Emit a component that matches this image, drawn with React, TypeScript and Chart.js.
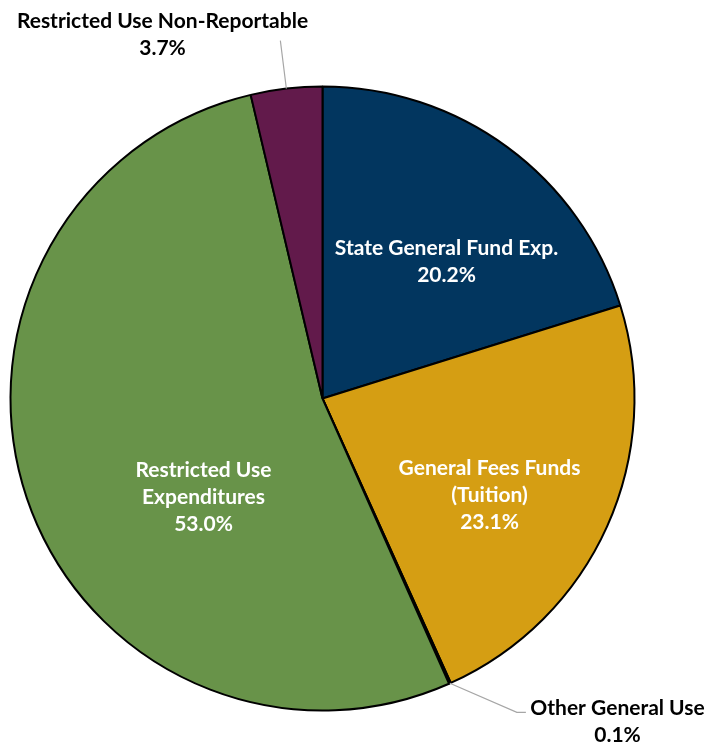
import React, { useEffect, useRef } from "react";
import { Chart, registerables } from "chart.js";

Chart.register(...registerables);

const categories = [
  "State General Fund Exp.",
  "General Fees Funds (Tuition)",
  "Other General Use",
  "Restricted Use Expenditures",
  "Restricted Use Non-Reportable",
];
const values = [20.2, 23.1, 0.1, 53.0, 3.7];
const labelLines = [
  ["State General Fund Exp.", "20.2%"],
  ["General Fees Funds", "(Tuition)", "23.1%"],
  ["Other General Use", "0.1%"],
  ["Restricted Use", "Expenditures", "53.0%"],
  ["Restricted Use Non-Reportable", "3.7%"],
];
const colors = ["#02365F", "#D59E13", "#D59E13", "#689349", "#621A4B"];

// label placement: inside labels relative to chart center (px), outside ones with leader lines
const labelPlacement = [
  { inside: true, x: 124, y: -137 },
  { inside: true, x: 167, y: 97 },
  { inside: false, x: 295, y: 323, leader: [[67, 29], [76, 29]] },
  { inside: true, x: -119, y: 99 },
  { inside: false, x: -160, y: -364, leader: [[-6, -48]] },
];

const labelPlugin = {
  id: "pieLabels",
  afterDatasetsDraw(chart: any) {
    const ctx = chart.ctx;
    const meta = chart.getDatasetMeta(0);
    ctx.save();
    ctx.font = "bold 21px Lato";
    ctx.textAlign = "center";
    ctx.textBaseline = "middle";
    meta.data.forEach((arc: any, i: number) => {
      const p = labelPlacement[i];
      const cx = arc.x;
      const cy = arc.y;
      const lines = labelLines[i];
      const lh = 27;
      const lx = cx + p.x;
      const ly = cy + p.y;
      if (!p.inside && p.leader) {
        const ang = (arc.startAngle + arc.endAngle) / 2;
        const ex = cx + Math.cos(ang) * arc.outerRadius;
        const ey = cy + Math.sin(ang) * arc.outerRadius;
        ctx.strokeStyle = "#A6A6A6";
        ctx.lineWidth = 1.2;
        ctx.beginPath();
        ctx.moveTo(ex, ey);
        p.leader.forEach((pt: number[]) => ctx.lineTo(ex + pt[0], ey + pt[1]));
        ctx.stroke();
      }
      ctx.fillStyle = p.inside ? "#FFFFFF" : "#000000";
      const top = ly - ((lines.length - 1) * lh) / 2;
      lines.forEach((t, j) => ctx.fillText(t, lx, top + j * lh));
    });
    ctx.restore();
  },
};

export default function App() {
  const ref = useRef<HTMLCanvasElement | null>(null);
  useEffect(() => {
    if (!ref.current) return;
    const chart = new Chart(ref.current, {
      type: "pie",
      data: {
        labels: categories,
        datasets: [
          {
            data: values,
            backgroundColor: colors,
            borderColor: "#000000",
            borderWidth: 2,
          },
        ],
      },
      options: {
        responsive: false,
        animation: false,
        layout: { padding: { left: 9.5, right: 71.5, top: 85.5, bottom: 33.5 } },
        plugins: {
          legend: { display: false },
          tooltip: { enabled: false },
        },
      },
      plugins: [labelPlugin],
    });
    return () => chart.destroy();
  }, []);
  return (
    <div style={{ position: "absolute", left: 0, top: 0, width: 707, height: 745, background: "#fff" }}>
      <canvas ref={ref} width={707} height={745} style={{ display: "block" }} />
    </div>
  );
}
